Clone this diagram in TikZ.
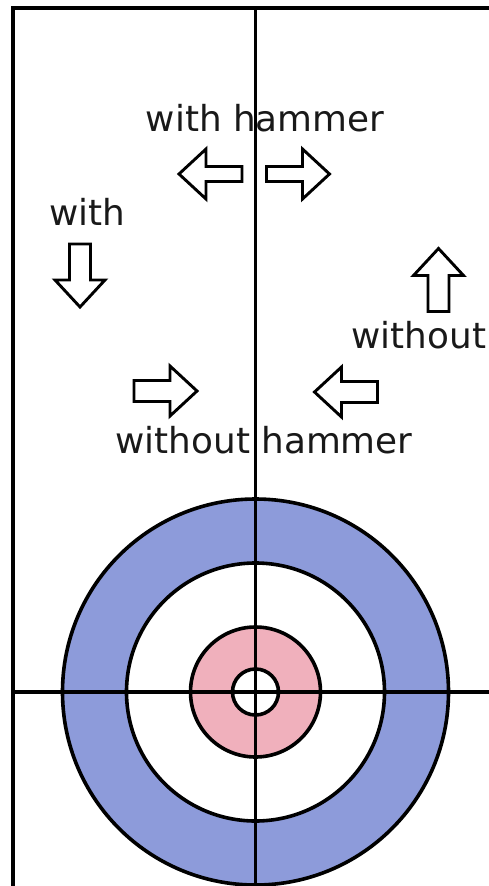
\documentclass[tikz,border=0pt]{standalone}
\usepackage{fontspec}
\newfontfamily\labelfont{DejaVu Sans}
\usepackage{tikz}
\definecolor{ringblue}{RGB}{141,155,218}
\definecolor{ringpink}{RGB}{240,176,188}

\tikzset{
  sheetline/.style={line width=3.4pt, black},
  ringline/.style={line width=3.6pt, black},
  arrowline/.style={line width=2.9pt, black, fill=white, line join=miter},
  lbl/.style={inner sep=0pt, anchor=base, text=black!90,
    font=\labelfont\fontsize{35.8}{40}\selectfont},
  % block arrow pointing right, centred on the pic origin
  pics/blockarrow/.style={code={
    \draw[arrowline] (-31,-#1) -- (5,-#1) -- (5,-25) -- (32,0)
      -- (5,25) -- (5,#1) -- (-31,#1) -- cycle;
  }},
  pics/blockarrow/.default=10.5
}

\begin{document}
\begin{tikzpicture}[x=1pt, y=-1pt]
  \useasboundingbox (0,0) rectangle (489,886);

  % house: rings filled from outside in
  \fill[ringblue] (255.5,692) circle[radius=193pt];
  \fill[white]    (255.5,692) circle[radius=129pt];
  \fill[ringpink] (255.5,692) circle[radius=65pt];
  \fill[white]    (255.5,692) circle[radius=23pt];
  \foreach \r in {193,129,65,23}
    \draw[ringline] (255.5,692) circle[radius=\r pt];

  % sheet edges, centre line and tee line
  \coordinate (topleft) at (13,8);
  \coordinate (topright) at (489,8);
  \coordinate (bottomleft) at (13,886);
  \coordinate (centretop) at (255.5,8);
  \coordinate (centrebottom) at (255.5,886);
  \coordinate (teeleft) at (13,692);
  \coordinate (teeright) at (489,692);
  \draw[sheetline] (topright) -- (topleft) -- (bottomleft);
  \draw[sheetline] (centretop) -- (centrebottom);
  \draw[sheetline] (teeleft) -- (teeright);

  % arrows
  \pic[rotate=180] at (211,174) {blockarrow=7.5};
  \pic at (297.5,174) {blockarrow=7.5};
  \pic[rotate=-90] at (80,275) {blockarrow};
  \pic[rotate=90] at (438.5,280.5) {blockarrow};
  \pic at (165,391) {blockarrow};
  \pic[rotate=180] at (346.5,392) {blockarrow};

  % labels
  \node[lbl] (withhammer) at (265,131) {with hammer};
  \node[lbl] (with) at (87,225) {with};
  \node[lbl] (without) at (419,348) {without};
  \node[lbl] (withouthammer) at (264,453) {without hammer};
\end{tikzpicture}
\end{document}
